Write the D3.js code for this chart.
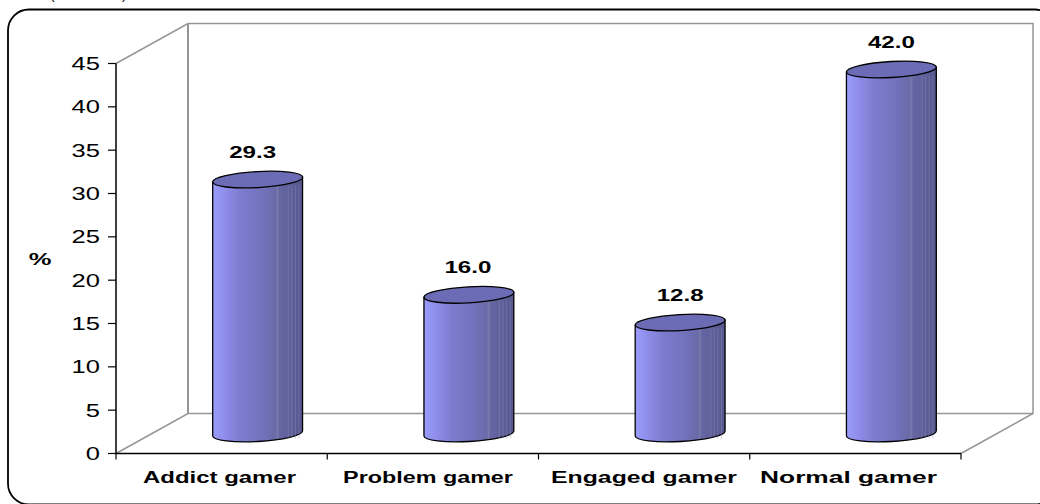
<!DOCTYPE html>
<html><head><meta charset="utf-8">
<script src="https://cdn.jsdelivr.net/npm/d3@7"></script>
<style>html,body{margin:0;padding:0;background:#fff;overflow:hidden}svg{display:block}text{font-family:"Liberation Sans",Arial,sans-serif;fill:#000}</style>
</head><body><svg id="c" width="1040" height="504"></svg>
<script>
const categories = ["Addict gamer","Problem gamer","Engaged gamer","Normal gamer"];
const values = [29.3,16.0,12.8,42.0];
const valueLabels = ["29.3","16.0","12.8","42.0"];
const yTicks = [0,5,10,15,20,25,30,35,40,45];
const yTitle = "%";

// text layout of the reference, separate from the data
const catWidths = [153,170,186,177];
const catCentres = [219.5,428,644,848.5];
const labelNudge = [-5,-1,0,0];

const W=1040,H=504;
const plot={l:116,r:961,t:63.5,b:453.5}, depth={x:72,y:-40};
const svg=d3.select("#c");
const x=d3.scaleBand().domain(categories).range([plot.l,plot.r]);
const y=d3.scaleLinear().domain([0,45]).range([plot.b,plot.t]);

svg.append("rect").attr("x",8).attr("y",9.5).attr("width",1048).attr("height",495).attr("rx",21)
  .attr("fill","#fff").attr("stroke","#000").attr("stroke-width",1.8);
[[50,"("],[122,")"]].forEach(([px,s])=>svg.append("text").attr("x",px).attr("y",-1.5).attr("font-size",14).text(s));

const wall="#969696";
const g=svg.append("g").attr("fill","none").attr("stroke",wall);
g.append("path").attr("stroke-width",1.5).attr("d",d3.line()([
  [plot.l,plot.t],[plot.l+depth.x,plot.t+depth.y],[plot.r+depth.x,plot.t+depth.y],[plot.r+depth.x,plot.b+depth.y],[plot.r,plot.b]]));
g.append("path").attr("stroke-width",1.5).attr("d",d3.line()([
  [plot.l,plot.b],[plot.l+depth.x,plot.b+depth.y],[plot.r+depth.x,plot.b+depth.y]]));
g.append("path").attr("stroke-width",2).attr("d",d3.line()([
  [plot.l+depth.x,plot.t+depth.y],[plot.l+depth.x,plot.b+depth.y]]));

const defs=svg.append("defs");
const grad=defs.append("linearGradient").attr("id","cyl").attr("x1",0).attr("x2",1).attr("y1",0).attr("y2",0);
[[0,"#9b9bfb"],[.12,"#8f8fec"],[.3,"#7d7dd0"],[.55,"#7272bd"],[.7,"#6a6aa8"],[.72,"#7a7aae"],[.74,"#6666a4"],[1,"#57578e"]]
  .forEach(([o,c])=>grad.append("stop").attr("offset",o).attr("stop-color",c));

const rx=45, ry=8, tilt=-3.2, t=tilt*Math.PI/180;
const ex=rx*Math.cos(t), ey=rx*Math.sin(t);
const cyl=svg.append("g").selectAll("g").data(categories.map((c,i)=>({c,v:values[i],l:valueLabels[i],n:labelNudge[i]}))).join("g");
cyl.each(function(d){
  const s=d3.select(this);
  const cx=x(d.c)+x.bandwidth()/2+depth.x/2;
  const yb=y(0)+depth.y/2, yt=y(d.v)+depth.y/2;
  s.append("path").attr("fill","url(#cyl)").attr("stroke","#000").attr("stroke-width",1.3)
   .attr("d",`M${cx-ex},${yt-ey}L${cx-ex},${yb-ey}A${rx},${ry} ${tilt} 0 0 ${cx+ex},${yb+ey}L${cx+ex},${yt+ey}Z`);
  [.84,.88,.92,.96].forEach(f=>{
    s.append("line").attr("x1",cx-rx+2*rx*f).attr("x2",cx-rx+2*rx*f)
      .attr("y1",yt+ry-2).attr("y2",yb+ry-3).attr("stroke","#8c8cbc").attr("stroke-width",.7).attr("opacity",.6);
  });
  s.append("ellipse").attr("cx",cx).attr("cy",yt).attr("rx",rx).attr("ry",ry)
   .attr("transform",`rotate(${tilt} ${cx} ${yt})`).attr("fill","#6c6cb6").attr("stroke","#000").attr("stroke-width",1.3);
  s.append("text").attr("transform",`translate(${cx+d.n},${yt-21.5}) scale(1.42,1)`).attr("text-anchor","middle")
   .attr("font-size",17).attr("font-weight","bold").text(d.l);
});

const ax=svg.append("g").attr("stroke","#000").attr("fill","none");
ax.append("path").attr("stroke-width",1.5).attr("d",d3.line()([[plot.l,plot.t],[plot.l,plot.b],[plot.r,plot.b]]));
yTicks.forEach(v=>{
  ax.append("line").attr("x1",plot.l-8).attr("x2",plot.l).attr("y1",y(v)).attr("y2",y(v)).attr("stroke-width",1.2);
  svg.append("text").attr("transform",`translate(100,${y(v)+6.5}) scale(1.42,1)`).attr("text-anchor","end").attr("font-size",18).text(v);
});
d3.range(categories.length+1).forEach(i=>{
  const px=plot.l+i*x.step();
  ax.append("line").attr("x1",px).attr("x2",px).attr("y1",plot.b).attr("y2",plot.b+6).attr("stroke-width",1.2);
});
categories.forEach((c,i)=>{
  const t=svg.append("text").attr("text-anchor","middle").attr("font-size",17).attr("font-weight","bold").text(c);
  const sx=catWidths[i]/t.node().getComputedTextLength();
  t.attr("transform",`translate(${catCentres[i]},482.5) scale(${sx},1)`);
});
svg.append("text").attr("transform","translate(40,265) scale(1.5,1)").attr("text-anchor","middle").attr("font-size",17).attr("font-weight","bold").text(yTitle);
</script></body></html>
